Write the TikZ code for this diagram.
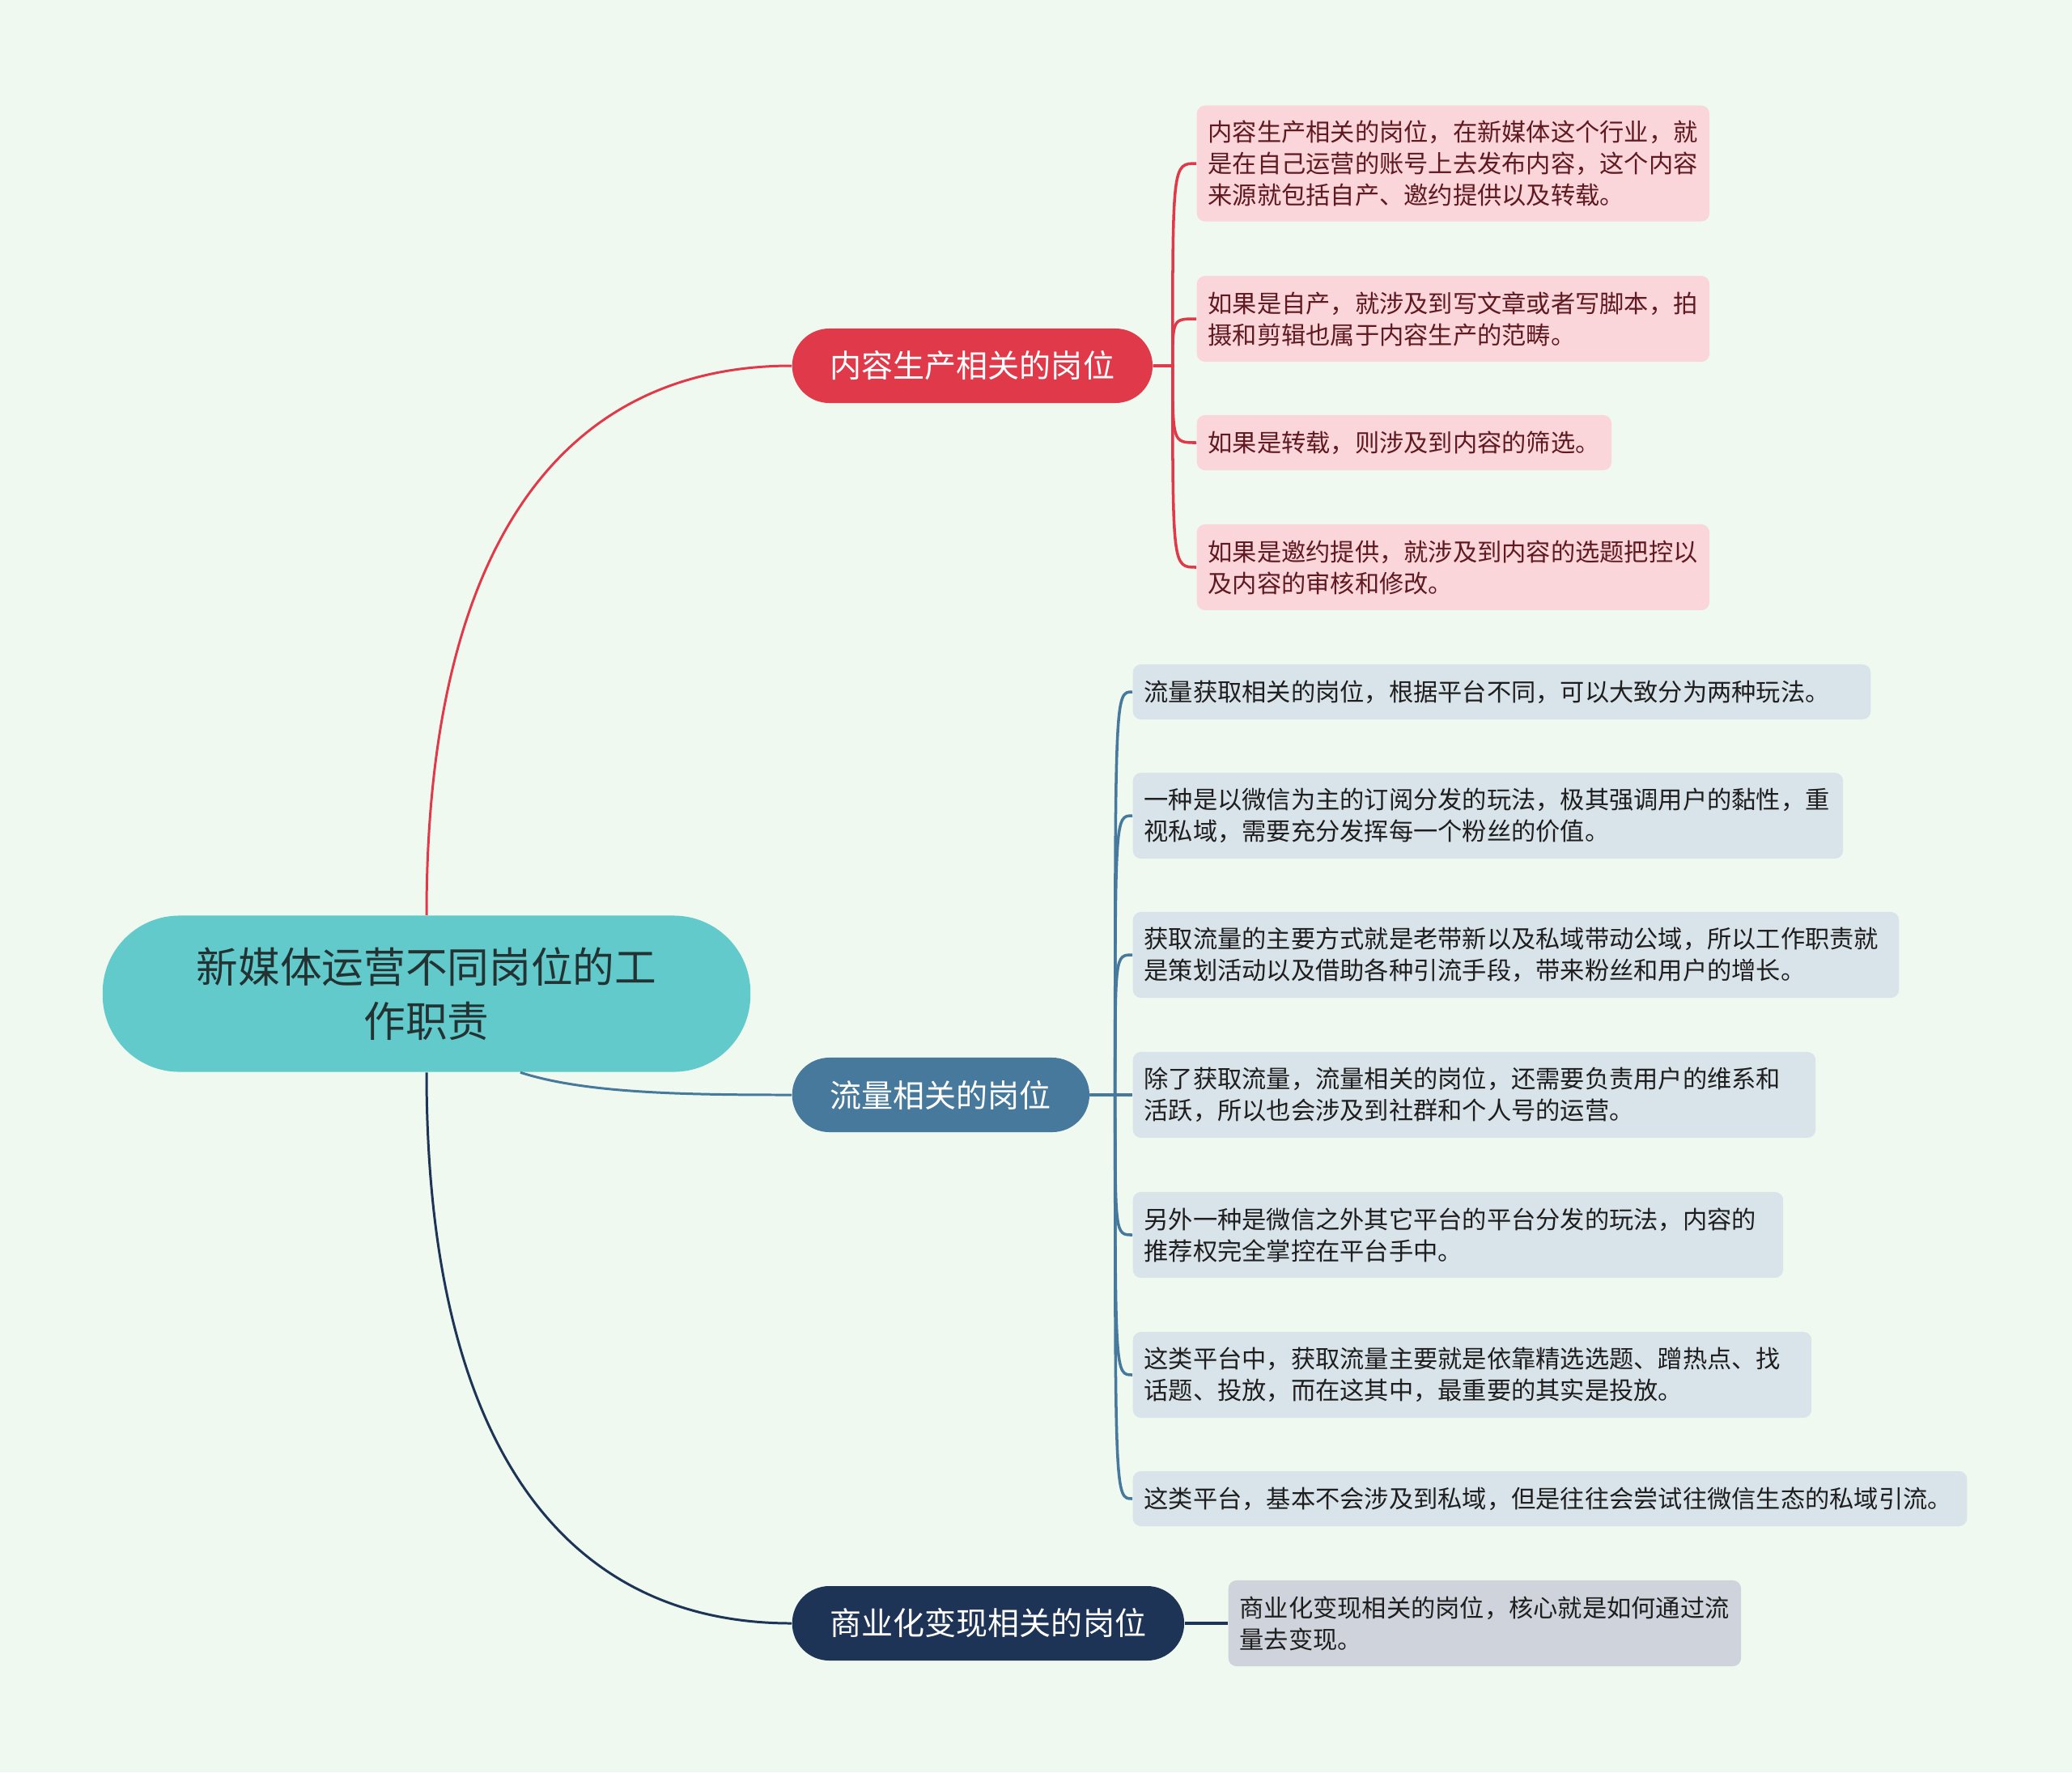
\documentclass[tikz,border=0pt]{standalone}
\usepackage{fontspec}
\newfontfamily\cjk{Noto Sans CJK SC}
\usetikzlibrary{calc}
\definecolor{paper}{HTML}{F0F9EF}
\definecolor{rootfill}{HTML}{63CACC}
\definecolor{rootink}{HTML}{233333}
\definecolor{rose}{HTML}{E03A4A}
\definecolor{roseleaf}{HTML}{FAD5DA}
\definecolor{roseink}{HTML}{5E1A20}
\definecolor{steel}{HTML}{46799C}
\definecolor{steelleaf}{HTML}{D9E3EA}
\definecolor{navy}{HTML}{1D3456}
\definecolor{navyleaf}{HTML}{CFD4DC}
\definecolor{leafink}{HTML}{1E1E1E}
\newcommand{\Wide}{2560}
\newcommand{\High}{2190}
\newcommand{\Branchx}{978}

\begin{document}
\begin{tikzpicture}[x=0.01cm, y=-0.01cm, font=\cjk,
    topic/.style={fill=rootfill, text=rootink, rounded corners=0.95cm, minimum width=8cm,
      minimum height=1.93cm, align=center, font=\cjk\fontsize{14.7}{19.1}\selectfont},
    branch/.style={rounded corners=0.46cm, minimum height=0.92cm, inner xsep=0.47cm,
      inner ysep=0pt, text=white, anchor=west, font=\cjk\fontsize{11.1}{13}\selectfont},
    leaf/.style={rounded corners=0.1cm, inner xsep=0.14cm, inner ysep=0pt, anchor=west,
      align=left, font=\cjk\fontsize{8.6}{11.1}\selectfont},
    trunk/.style={line width=0.85pt},
    link/.style={line width=1pt},
  ]
% --- Background ------------------------------------------------------------------------
\fill[paper] (0,0) rectangle (\Wide,\High);
\useasboundingbox (0,0) rectangle (\Wide,\High);

% --- Root and the three branches ----------------------------------------------------------
\node[topic] (root) at (527,1228) {新媒体运营不同岗位的工\\作职责};
\node[branch, fill=rose] (rb) at (\Branchx,452) {内容生产相关的岗位};
\node[branch, fill=steel] (bb) at (\Branchx,1353) {流量相关的岗位};
\node[branch, fill=navy] (nb) at (\Branchx,2006) {商业化变现相关的岗位};

\draw[trunk, rose] (root.north) .. controls +(0,-442) and +(-293,0) .. (rb.west);
\draw[trunk, steel] (root.-40) .. controls +(80,26) and +(-130,0) .. (bb.west);
\draw[trunk, navy] (root.south) .. controls +(0,442) and +(-293,0) .. (nb.west);

% --- Content production: four leaves -------------------------------------------------------
\coordinate (rhub) at ([xshift=0.24cm] rb.east);
\foreach \i/\y/\w/\h/\t in {
    1/202/6.05/1.43/{内容生产相关的岗位，在新媒体这个行业，就\\是在自己运营的账号上去发布内容，这个内容\\来源就包括自产、邀约提供以及转载。},
    2/394/6.05/1.06/{如果是自产，就涉及到写文章或者写脚本，拍\\摄和剪辑也属于内容生产的范畴。},
    3/547/4.84/0.68/{如果是转载，则涉及到内容的筛选。},
    4/701/6.05/1.06/{如果是邀约提供，就涉及到内容的选题把控以\\及内容的审核和修改。}} {
  \node[leaf, fill=roseleaf, text=roseink, text width=\w cm, minimum height=\h cm] (r\i) at (1478,\y) {\t};
  \draw[link, rose] (rb.east) -- (rhub) .. controls (rhub |- r\i.west) .. (r\i.west);
}

% --- Traffic: seven leaves --------------------------------------------------------------------
\coordinate (bhub) at ([xshift=0.31cm] bb.east);
\foreach \i/\y/\w/\h/\t in {
    1/855/8.83/0.68/{流量获取相关的岗位，根据平台不同，可以大致分为两种玩法。},
    2/1008/8.49/1.06/{一种是以微信为主的订阅分发的玩法，极其强调用户的黏性，重\\视私域，需要充分发挥每一个粉丝的价值。},
    3/1180/9.18/1.06/{获取流量的主要方式就是老带新以及私域带动公域，所以工作职责就\\是策划活动以及借助各种引流手段，带来粉丝和用户的增长。},
    4/1353/8.15/1.06/{除了获取流量，流量相关的岗位，还需要负责用户的维系和\\活跃，所以也会涉及到社群和个人号的运营。},
    5/1526/7.75/1.06/{另外一种是微信之外其它平台的平台分发的玩法，内容的\\推荐权完全掌控在平台手中。},
    6/1699/8.10/1.06/{这类平台中，获取流量主要就是依靠精选选题、蹭热点、找\\话题、投放，而在这其中，最重要的其实是投放。},
    7/1852/10.02/0.68/{这类平台，基本不会涉及到私域，但是往往会尝试往微信生态的私域引流。}} {
  \node[leaf, fill=steelleaf, text=leafink, text width=\w cm, minimum height=\h cm] (b\i) at (1399,\y) {\t};
  \draw[link, steel] (bb.east) -- (bhub) .. controls (bhub |- b\i.west) .. (b\i.west);
}

% --- Monetisation: one leaf ---------------------------------------------------------------------
\node[leaf, fill=navyleaf, text=leafink, text width=6.05cm, minimum height=1.06cm] (n1) at (1517,2006)
  {商业化变现相关的岗位，核心就是如何通过流\\量去变现。};
\draw[link, navy] (nb) -- (n1);
\end{tikzpicture}
\end{document}
